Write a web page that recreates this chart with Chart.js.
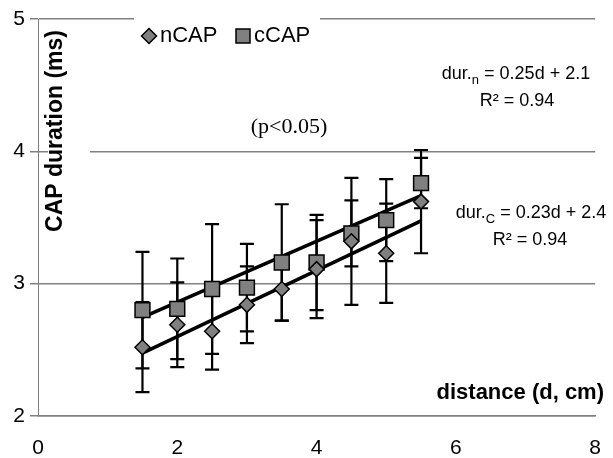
<!DOCTYPE html>
<html>
<head>
<meta charset="utf-8">
<script src="https://cdn.jsdelivr.net/npm/chart.js@4.4.1/dist/chart.umd.min.js"></script>
<style>
  html, body { margin: 0; padding: 0; background: #fff; }
  #wrap { width: 613px; height: 458px; }
</style>
</head>
<body>
<div id="wrap"><canvas id="capChart"></canvas></div>
<script>
// conduction distance (cm) and mean CAP duration (ms) with SD
const distances = [1.5, 2, 2.5, 3, 3.5, 4, 4.5, 5, 5.5];
const nCapDur = [2.52, 2.69, 2.64, 2.84, 2.96, 3.11, 3.32, 3.23, 3.62];
const nCapSd  = [0.34, 0.32, 0.29, 0.29, 0.24, 0.37, 0.48, 0.375, 0.39];
const cCapDur = [2.80, 2.81, 2.96, 2.97, 3.16, 3.16, 3.38, 3.48, 3.76];
const cCapSd  = [0.44, 0.38, 0.49, 0.33, 0.44, 0.36, 0.25, 0.31, 0.19];

// linear fits as [slope, intercept]
const nFit = [0.25, 2.1];
const cFit = [0.23, 2.4];
const fitR2 = '0.94';
const fitRange = [1.5, 5.5];

const xTicks = [0, 2, 4, 6, 8];
const yTicks = [2, 3, 4, 5];

const SANS = '"Liberation Sans", Arial, sans-serif';
const SERIF = '"Liberation Serif", "Times New Roman", serif';
const MARK_FILL = '#808080';

Chart.defaults.font.family = SANS;
Chart.defaults.color = '#000';

const toPoints = (xs, ys) => xs.map((x, i) => ({ x: x, y: ys[i] }));
const fitLine = fit => fitRange.map(x => ({ x: x, y: fit[0] * x + fit[1] }));

// vertical SD whiskers with caps
const errorBars = {
    id: 'errorBars',
    beforeDatasetsDraw(chart) {
        const { ctx, scales: { x, y } } = chart;
        const sets = [[nCapDur, nCapSd], [cCapDur, cCapSd]];
        ctx.save();
        ctx.strokeStyle = '#000';
        ctx.lineWidth = 2.2;
        sets.forEach(([vals, sd]) => {
            distances.forEach((d, i) => {
                const px = x.getPixelForValue(d);
                const top = y.getPixelForValue(vals[i] + sd[i]);
                const bot = y.getPixelForValue(vals[i] - sd[i]);
                ctx.beginPath();
                ctx.moveTo(px, top);
                ctx.lineTo(px, bot);
                ctx.moveTo(px - 7, top);
                ctx.lineTo(px + 7, top);
                ctx.moveTo(px - 7, bot);
                ctx.lineTo(px + 7, bot);
                ctx.stroke();
            });
        });
        ctx.restore();
    }
};

function drawEquation(ctx, cx, y, sub, rest) {
    const big = '18px ' + SANS;
    const small = '13px ' + SANS;
    ctx.font = big;
    const w1 = ctx.measureText('dur.').width;
    const w3 = ctx.measureText(rest).width;
    ctx.font = small;
    const w2 = ctx.measureText(sub).width;
    let x = cx - (w1 + w2 + w3) / 2;
    ctx.textAlign = 'left';
    ctx.textBaseline = 'alphabetic';
    ctx.font = big;
    ctx.fillText('dur.', x, y);
    x += w1;
    ctx.font = small;
    ctx.fillText(sub, x, y + 5);
    x += w2;
    ctx.font = big;
    ctx.fillText(rest, x, y);
}

function drawMarker(ctx, style, cx, cy) {
    ctx.fillStyle = MARK_FILL;
    ctx.strokeStyle = '#000';
    ctx.lineWidth = 1.5;
    ctx.beginPath();
    if (style === 'diamond') {
        ctx.moveTo(cx, cy - 7.5);
        ctx.lineTo(cx + 7.5, cy);
        ctx.lineTo(cx, cy + 7.5);
        ctx.lineTo(cx - 7.5, cy);
        ctx.closePath();
    } else {
        ctx.rect(cx - 7, cy - 7, 14, 14);
    }
    ctx.fill();
    ctx.stroke();
}

// titles, legend and fit equations
const overlay = {
    id: 'overlay',
    afterDraw(chart) {
        const { ctx } = chart;
        ctx.save();

        // y title sits inside the plot on a white box
        ctx.fillStyle = '#fff';
        ctx.fillRect(48, 28, 42, 208);
        ctx.save();
        ctx.translate(56, 131);
        ctx.rotate(-Math.PI / 2);
        ctx.fillStyle = '#000';
        ctx.font = 'bold 23px ' + SANS;
        ctx.textAlign = 'center';
        ctx.textBaseline = 'middle';
        ctx.fillText('CAP duration (ms)', 0, 0);
        ctx.restore();

        ctx.fillStyle = '#000';
        ctx.font = 'bold 22px ' + SANS;
        ctx.textAlign = 'right';
        ctx.textBaseline = 'middle';
        ctx.fillText('distance (d, cm)', 604, 393);

        // legend
        ctx.fillStyle = '#fff';
        ctx.fillRect(134, 10, 186, 40);
        drawMarker(ctx, 'diamond', 149, 36);
        drawMarker(ctx, 'square', 243, 36);
        ctx.fillStyle = '#000';
        ctx.font = '22px ' + SANS;
        ctx.textAlign = 'left';
        ctx.fillText('nCAP', 160, 36);
        ctx.fillText('cCAP', 254, 36);

        drawEquation(ctx, 516, 79, 'n', ' = ' + nFit[0] + 'd + ' + nFit[1]);
        drawEquation(ctx, 531, 218, 'C', ' = ' + cFit[0] + 'd + ' + cFit[1]);
        ctx.font = '18px ' + SANS;
        ctx.textAlign = 'center';
        ctx.textBaseline = 'alphabetic';
        ctx.fillText('R² = ' + fitR2, 517, 106);
        ctx.fillText('R² = ' + fitR2, 530, 245);

        ctx.font = '22px ' + SERIF;
        ctx.textBaseline = 'middle';
        ctx.fillText('(p<0.05)', 289, 127);
        ctx.restore();
    }
};

const ctx = document.getElementById('capChart').getContext('2d');
new Chart(ctx, {
    type: 'scatter',
    data: {
        datasets: [
            {
                label: 'nCAP',
                data: toPoints(distances, nCapDur),
                pointStyle: 'rectRot',
                pointRadius: 7.5,
                backgroundColor: MARK_FILL,
                borderColor: '#000',
                borderWidth: 1.5
            },
            {
                label: 'cCAP',
                data: toPoints(distances, cCapDur),
                pointStyle: 'rect',
                pointRadius: 10.5,
                backgroundColor: MARK_FILL,
                borderColor: '#000',
                borderWidth: 1.5
            },
            {
                label: 'nCAP fit',
                type: 'line',
                data: fitLine(nFit),
                borderColor: '#000',
                borderWidth: 3.5,
                pointRadius: 0,
                fill: false
            },
            {
                label: 'cCAP fit',
                type: 'line',
                data: fitLine(cFit),
                borderColor: '#000',
                borderWidth: 3.5,
                pointRadius: 0,
                fill: false
            }
        ]
    },
    options: {
        responsive: true,
        maintainAspectRatio: false,
        animation: false,
        layout: { padding: { top: 19, right: 8, left: 0, bottom: 0 } },
        scales: {
            x: {
                type: 'linear',
                min: 0,
                max: 8,
                afterFit: s => { s.height = 42; },
                afterBuildTicks: s => { s.ticks = xTicks.map(v => ({ value: v })); },
                grid: { display: false },
                border: { display: true, color: '#808080', width: 1.5 },
                ticks: { font: { size: 21 }, color: '#000', padding: 12 }
            },
            y: {
                min: 2,
                max: 5,
                afterFit: s => { s.width = 38; },
                afterBuildTicks: s => { s.ticks = yTicks.map(v => ({ value: v })); },
                grid: { color: '#808080', lineWidth: 1.5, tickLength: 8 },
                border: { display: true, color: '#808080', width: 1 },
                ticks: { font: { size: 21 }, color: '#000', padding: 5 }
            }
        },
        plugins: {
            legend: { display: false },
            tooltip: { enabled: false }
        }
    },
    plugins: [errorBars, overlay]
});
</script>
</body>
</html>
